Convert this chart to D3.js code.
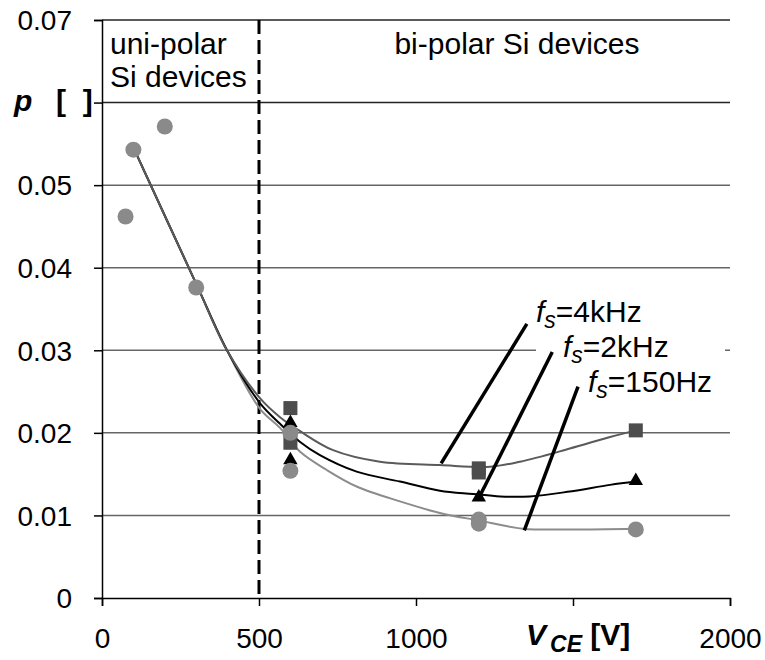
<!DOCTYPE html>
<html><head><meta charset="utf-8">
<script src="https://cdn.jsdelivr.net/npm/d3@7"></script>
<style>body{margin:0;background:#fff}svg{display:block}text{font-family:"Liberation Sans",Arial,sans-serif;white-space:pre}</style>
</head><body><svg id="c" width="765" height="660"></svg>
<script>
// ---- data ----
const yTicks = [0, 0.01, 0.02, 0.03, 0.04, 0.05, 0.06, 0.07];
const yTickLabels = ["0", "0.01", "0.02", "0.03", "0.04", "0.05", "", "0.07"];
const xTicks = [0, 500, 1000, 1500, 2000];
const xTickLabels = ["0", "500", "1000", "", "2000"];
const seriesNames = ["fs=4kHz", "fs=2kHz", "fs=150Hz"];
// smoothed curves (V_CE, p)
const line4k = [[102,0.0544],[303,0.0378],[398,0.0300],[503,0.0242],[567,0.0219],[631,0.0202],[736,0.0179],[885,0.0165],[1076,0.0161],[1236,0.0159],[1331,0.0165],[1490,0.0181],[1618,0.0195],[1700,0.0203]];
const line2k = [[102,0.0544],[303,0.0378],[398,0.0300],[503,0.0236],[567,0.0211],[631,0.0189],[694,0.0173],[811,0.0153],[949,0.0141],[1076,0.0130],[1182,0.0126],[1268,0.0123],[1363,0.0123],[1490,0.0129],[1618,0.0137],[1700,0.0141]];
const line150 = [[102,0.0544],[303,0.0378],[398,0.0300],[503,0.0229],[567,0.0206],[631,0.0177],[716,0.0155],[811,0.0135],[949,0.0117],[1076,0.0103],[1197,0.0094],[1341,0.0084],[1490,0.0083],[1700,0.0084]];
// measured points
const squares = [[600,0.0230],[600,0.0188],[1200,0.0157],[1200,0.0152],[1700,0.0203]];
const triangles = [[600,0.0212],[600,0.0167],[1200,0.0122],[1700,0.0142]];
const circles = [[75,0.0462],[100,0.0543],[200,0.0571],[300,0.0376],[600,0.0200],[600,0.0154],[1200,0.0095],[1200,0.0090],[1700,0.0083]];
// annotation leader lines: [labelEnd, curveEnd]
const leaders = [[[1353,0.0332],[1080,0.0163]],[[1434,0.0298],[1200,0.0121]],[[1516,0.0256],[1345,0.0082]]];

// ---- chart ----
const svg = d3.select("#c");
const x = d3.scaleLinear().domain([0,2000]).range([102,730]);
const y = d3.scaleLinear().domain([0,0.07]).range([598,20]);
const FS = 28, FL = 30, FSUB = 23;

// gridlines
svg.append("g").selectAll("line").data(yTicks.slice(1)).join("line")
  .attr("x1", x(0)).attr("x2", x(2000)).attr("y1", d=>y(d)).attr("y2", d=>y(d))
  .attr("stroke", d=> d>=0.06 ? "#222" : "#666").attr("stroke-width", 1.5);

// axes
const yAxis = d3.axisLeft(y).tickValues(yTicks).tickSize(8).tickFormat((d,i)=>yTickLabels[i]);
const gy = svg.append("g").attr("transform",`translate(${x(0)},0)`).call(yAxis);
const xAxis = d3.axisBottom(x).tickValues(xTicks).tickSize(8).tickFormat((d,i)=>xTickLabels[i]);
const gx = svg.append("g").attr("transform",`translate(0,${y(0)})`).call(xAxis);
[gy,gx].forEach(g=>{
  g.select(".domain").attr("stroke","#000").attr("stroke-width",1.5);
  g.selectAll(".tick line").attr("stroke","#000").attr("stroke-width",1.5);
  g.selectAll(".tick text").attr("font-size",FS).attr("fill","#000")
   .attr("font-family",'"Liberation Sans",Arial,sans-serif');
});
gy.selectAll(".tick text").attr("x",-30).attr("dy","0.35em");
gx.selectAll(".tick text").attr("y",30).attr("dy","0.71em");

// dashed divider at 500 V
svg.append("line").attr("x1",x(500)).attr("x2",x(500)).attr("y1",y(0.07)).attr("y2",y(0))
  .attr("stroke","#000").attr("stroke-width",3).attr("stroke-dasharray","14,6");

// region labels
svg.append("text").attr("x",110).attr("y",54).attr("font-size",FL).text("uni-polar");
svg.append("text").attr("x",110).attr("y",87).attr("font-size",FL).text("Si devices");
svg.append("text").attr("x",517).attr("y",54).attr("font-size",FL).attr("text-anchor","middle").text("bi-polar Si devices");

// axis titles
svg.append("text").attr("x",14).attr("y",111).attr("font-size",FL).attr("font-weight","bold").attr("font-style","italic").text("p");
svg.append("text").attr("x",56).attr("y",111).attr("font-size",FL).attr("font-weight","bold").text("[  ]");
const xt = svg.append("text").attr("x",526).attr("y",645).attr("font-size",FL).attr("font-weight","bold");
xt.append("tspan").attr("font-style","italic").text("V");
xt.append("tspan").attr("font-style","italic").attr("font-size",FSUB).attr("dx",4).attr("dy",7).text("CE");
xt.append("tspan").attr("dy",-7).text(" [V]");

// curves
const lg = d3.line().x(d=>x(d[0])).y(d=>y(d[1])).curve(d3.curveCatmullRom.alpha(0.5));
const curves = [[line150,"#8c8c8c"],[line2k,"#000"],[line4k,"#5a5a5a"]];
curves.forEach(([data,col])=>svg.append("path").attr("d",lg(data)).attr("fill","none").attr("stroke",col).attr("stroke-width",2));

// markers
svg.append("g").selectAll("rect").data(squares).join("rect")
  .attr("x",d=>x(d[0])-7).attr("y",d=>y(d[1])-7).attr("width",14).attr("height",14).attr("fill","#4d4d4d");
const tri = d3.symbol().type(d3.symbolTriangle).size(90);
svg.append("g").selectAll("path").data(triangles).join("path")
  .attr("d",tri).attr("transform",d=>`translate(${x(d[0])},${y(d[1])})`).attr("fill","#000");
svg.append("g").selectAll("circle").data(circles).join("circle")
  .attr("cx",d=>x(d[0])).attr("cy",d=>y(d[1])).attr("r",8).attr("fill","#8a8a8a");

// label box
svg.append("rect").attr("x",536).attr("y",298).attr("width",189).attr("height",100).attr("fill","#fff");
const labPos = [[536,322],[563,357],[588,392]];
const labRest = ["=4kHz","=2kHz","=150Hz"];
labPos.forEach((p,i)=>{
  const t = svg.append("text").attr("x",p[0]).attr("y",p[1]).attr("font-size",FL);
  t.append("tspan").attr("font-style","italic").text("f");
  t.append("tspan").attr("font-style","italic").attr("font-size",FSUB).attr("dy",6).text("s");
  t.append("tspan").attr("dy",-6).text(labRest[i]);
});
// leaders
svg.append("g").selectAll("line").data(leaders).join("line")
  .attr("x1",d=>x(d[0][0])).attr("y1",d=>y(d[0][1])).attr("x2",d=>x(d[1][0])).attr("y2",d=>y(d[1][1]))
  .attr("stroke","#000").attr("stroke-width",3.5);
</script></body></html>
